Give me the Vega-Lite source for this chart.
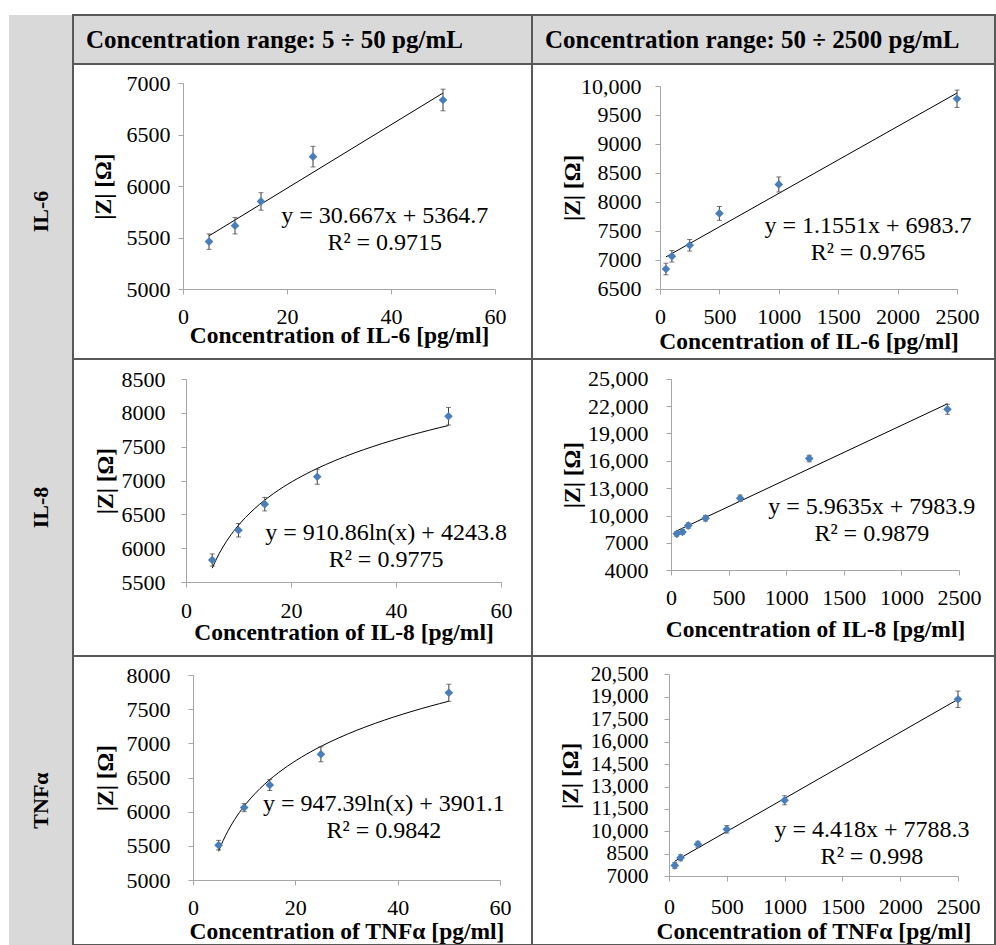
{
  "$schema": "https://vega.github.io/schema/vega-lite/v6.json",
  "padding": {"left": 9, "top": 14, "right": 0, "bottom": 0},
  "background": "white",
  "spacing": 0,
  "bounds": "flush",
  "columns": 3,
  "config": {
    "font": "Liberation Serif",
    "view": {"stroke": "#595959", "strokeWidth": 2},
    "axis": {"grid": false, "domainColor": "#a6a6a6", "tickColor": "#a6a6a6", "tickSize": 5, "labelFontSize": 22, "labelColor": "#000", "labelFont": "Liberation Serif", "titleFont": "Liberation Serif", "titleFontSize": 23.5, "titleFontWeight": "bold", "titleColor": "#000", "labelOverlap": false, "labelFlush": false}
  },
  "concat": [
      {"width": 64, "height": 49, "view": {"fill": "#d9d9d9"}, "data": {"values": [{"t": ""}]}, "mark": {"type": "text"}, "encoding": {"text": {"field": "t"}}},
      {"width": 459, "height": 49, "view": {"fill": "#d9d9d9"}, "data": {"values": [{"t": "Concentration range: 5 ÷ 50 pg/mL"}]}, "mark": {"type": "text", "align": "left", "dx": 13, "fontSize": 25, "fontWeight": "bold", "baseline": "middle"}, "encoding": {"x": {"datum": 0, "type": "quantitative", "scale": {"domain": [0, 1]}, "axis": null}, "text": {"field": "t"}}},
      {"width": 463, "height": 49, "view": {"fill": "#d9d9d9"}, "data": {"values": [{"t": "Concentration range: 50 ÷ 2500 pg/mL"}]}, "mark": {"type": "text", "align": "left", "dx": 13, "fontSize": 25, "fontWeight": "bold", "baseline": "middle"}, "encoding": {"x": {"datum": 0, "type": "quantitative", "scale": {"domain": [0, 1]}, "axis": null}, "text": {"field": "t"}}},
      {"width": 64, "height": 295, "view": {"fill": "#d9d9d9"}, "data": {"values": [{"t": "IL-6"}]}, "mark": {"type": "text", "angle": 270, "fontSize": 22, "fontWeight": "bold", "baseline": "middle", "align": "center"}, "encoding": {"text": {"field": "t"}}},
      {"width": 459, "height": 295, "view": {"fill": "white"},
       "data": {"values": [
         {"c": 5, "z": 5460, "lo": 5385, "hi": 5535},
         {"c": 10, "z": 5615, "lo": 5535, "hi": 5695},
         {"c": 15, "z": 5850, "lo": 5765, "hi": 5935},
         {"c": 25, "z": 6285, "lo": 6185, "hi": 6385},
         {"c": 50, "z": 6835, "lo": 6730, "hi": 6940}
       ]},
       "layer": [
         {"transform": [{"regression": "z", "on": "c", "method": "linear"}],
          "mark": {"type": "line", "color": "#000", "strokeWidth": 1},
          "encoding": {
            "x": {"field": "c", "type": "quantitative", "scale": {"domain": [0, 60], "range": [110, 422], "nice": false, "zero": false}, "axis": {"values": [0, 20, 40, 60], "tickCount": 20, "format": "d", "labelOverlap": false, "offset": -70, "labelPadding": 12, "title": "Concentration of  IL-6 [pg/ml]", "titleY": 53, "titleBaseline": "alphabetic"}},
            "y": {"field": "z", "type": "quantitative", "scale": {"domain": [5000, 7000], "range": [225, 19], "nice": false, "zero": false}, "axis": {"values": [5000, 5500, 6000, 6500, 7000], "tickCount": 20, "format": "d", "labelOverlap": false, "offset": -110, "labelPadding": 8, "title": "|Z| [Ω]", "titleX": -80, "titleBaseline": "middle"}}
          }},
         {"mark": {"type": "rule", "color": "#404040", "strokeWidth": 1}, "encoding": {"x": {"field": "c", "type": "quantitative"}, "y": {"field": "lo", "type": "quantitative"}, "y2": {"field": "hi"}}},
         {"mark": {"type": "tick", "orient": "horizontal", "size": 5, "thickness": 1, "color": "#404040"}, "encoding": {"x": {"field": "c", "type": "quantitative"}, "y": {"field": "lo", "type": "quantitative"}}},
         {"mark": {"type": "tick", "orient": "horizontal", "size": 5, "thickness": 1, "color": "#404040"}, "encoding": {"x": {"field": "c", "type": "quantitative"}, "y": {"field": "hi", "type": "quantitative"}}},
         {"mark": {"type": "point", "shape": "diamond", "filled": true, "size": 75, "color": "#4a7ebb", "opacity": 1}, "encoding": {"x": {"field": "c", "type": "quantitative"}, "y": {"field": "z", "type": "quantitative"}}},
         {"data": {"values": [{"eq": "y = 30.667x + 5364.7\nR² = 0.9715"}]}, "mark": {"type": "text", "fontSize": 24, "lineBreak": "\n", "lineHeight": 27, "baseline": "middle", "align": "center", "dy": -13.5}, "encoding": {"x": {"datum": 38.8}, "y": {"datum": 5578}, "text": {"field": "eq"}}}
       ]},
      {"width": 463, "height": 295, "view": {"fill": "white"},
       "data": {"values": [
         {"c": 50, "z": 6840, "lo": 6740, "hi": 6940},
         {"c": 100, "z": 7060, "lo": 6960, "hi": 7160},
         {"c": 250, "z": 7250, "lo": 7150, "hi": 7350},
         {"c": 500, "z": 7800, "lo": 7680, "hi": 7920},
         {"c": 1000, "z": 8300, "lo": 8170, "hi": 8430},
         {"c": 2500, "z": 9780, "lo": 9630, "hi": 9930}
       ]},
       "layer": [
         {"transform": [{"regression": "z", "on": "c", "method": "linear"}],
          "mark": {"type": "line", "color": "#000", "strokeWidth": 1},
          "encoding": {
            "x": {"field": "c", "type": "quantitative", "scale": {"domain": [0, 2500], "range": [128, 425], "nice": false, "zero": false}, "axis": {"values": [0, 500, 1000, 1500, 2000, 2500], "tickCount": 20, "format": "d", "labelOverlap": false, "offset": -70, "labelPadding": 12, "title": "Concentration of IL-6 [pg/ml]", "titleY": 59, "titleBaseline": "alphabetic"}},
            "y": {"field": "z", "type": "quantitative", "scale": {"domain": [6500, 10000], "range": [224.7, 22], "nice": false, "zero": false}, "axis": {"values": [6500, 7000, 7500, 8000, 8500, 9000, 9500, 10000], "tickCount": 20, "labelExpr": "datum.value >= 10000 ? format(datum.value, ',') : format(datum.value, 'd')", "labelOverlap": false, "offset": -128, "labelPadding": 14, "title": "|Z| [Ω]", "titleX": -88, "titleBaseline": "middle"}}
          }},
         {"mark": {"type": "rule", "color": "#404040", "strokeWidth": 1}, "encoding": {"x": {"field": "c", "type": "quantitative"}, "y": {"field": "lo", "type": "quantitative"}, "y2": {"field": "hi"}}},
         {"mark": {"type": "tick", "orient": "horizontal", "size": 5, "thickness": 1, "color": "#404040"}, "encoding": {"x": {"field": "c", "type": "quantitative"}, "y": {"field": "lo", "type": "quantitative"}}},
         {"mark": {"type": "tick", "orient": "horizontal", "size": 5, "thickness": 1, "color": "#404040"}, "encoding": {"x": {"field": "c", "type": "quantitative"}, "y": {"field": "hi", "type": "quantitative"}}},
         {"mark": {"type": "point", "shape": "diamond", "filled": true, "size": 75, "color": "#4a7ebb", "opacity": 1}, "encoding": {"x": {"field": "c", "type": "quantitative"}, "y": {"field": "z", "type": "quantitative"}}},
         {"data": {"values": [{"eq": "y = 1.1551x + 6983.7\nR² = 0.9765"}]}, "mark": {"type": "text", "fontSize": 24, "lineBreak": "\n", "lineHeight": 27, "baseline": "middle", "align": "center", "dy": -13.5}, "encoding": {"x": {"datum": 1751}, "y": {"datum": 7341}, "text": {"field": "eq"}}}
       ]},
      {"width": 64, "height": 297, "view": {"fill": "#d9d9d9"}, "data": {"values": [{"t": "IL-8"}]}, "mark": {"type": "text", "angle": 270, "fontSize": 22, "fontWeight": "bold", "baseline": "middle", "align": "center"}, "encoding": {"text": {"field": "t"}}},
      {"width": 459, "height": 297, "view": {"fill": "white"},
       "data": {"values": [
         {"c": 5, "z": 5825, "lo": 5735, "hi": 5915},
         {"c": 10, "z": 6265, "lo": 6165, "hi": 6365},
         {"c": 15, "z": 6650, "lo": 6550, "hi": 6750},
         {"c": 25, "z": 7055, "lo": 6945, "hi": 7165},
         {"c": 50, "z": 7950, "lo": 7820, "hi": 8080}
       ]},
       "layer": [
         {"transform": [{"regression": "z", "on": "c", "method": "log"}],
          "mark": {"type": "line", "color": "#000", "strokeWidth": 1},
          "encoding": {
            "x": {"field": "c", "type": "quantitative", "scale": {"domain": [0, 60], "range": [113, 428], "nice": false, "zero": false}, "axis": {"values": [0, 20, 40, 60], "tickCount": 20, "format": "d", "labelOverlap": false, "offset": -74, "labelPadding": 13, "title": "Concentration of IL-8 [pg/ml]", "titleY": 57, "titleBaseline": "alphabetic"}},
            "y": {"field": "z", "type": "quantitative", "scale": {"domain": [5500, 8500], "range": [223, 20], "nice": false, "zero": false}, "axis": {"values": [5500, 6000, 6500, 7000, 7500, 8000, 8500], "tickCount": 20, "format": "d", "labelOverlap": false, "offset": -113, "labelPadding": 16, "title": "|Z| [Ω]", "titleX": -81, "titleBaseline": "middle"}}
          }},
         {"mark": {"type": "rule", "color": "#404040", "strokeWidth": 1}, "encoding": {"x": {"field": "c", "type": "quantitative"}, "y": {"field": "lo", "type": "quantitative"}, "y2": {"field": "hi"}}},
         {"mark": {"type": "tick", "orient": "horizontal", "size": 5, "thickness": 1, "color": "#404040"}, "encoding": {"x": {"field": "c", "type": "quantitative"}, "y": {"field": "lo", "type": "quantitative"}}},
         {"mark": {"type": "tick", "orient": "horizontal", "size": 5, "thickness": 1, "color": "#404040"}, "encoding": {"x": {"field": "c", "type": "quantitative"}, "y": {"field": "hi", "type": "quantitative"}}},
         {"mark": {"type": "point", "shape": "diamond", "filled": true, "size": 75, "color": "#4a7ebb", "opacity": 1}, "encoding": {"x": {"field": "c", "type": "quantitative"}, "y": {"field": "z", "type": "quantitative"}}},
         {"data": {"values": [{"eq": "y = 910.86ln(x) + 4243.8\nR² = 0.9775"}]}, "mark": {"type": "text", "fontSize": 24, "lineBreak": "\n", "lineHeight": 27, "baseline": "middle", "align": "center", "dy": -13.5}, "encoding": {"x": {"datum": 38.1}, "y": {"datum": 6024}, "text": {"field": "eq"}}}
       ]},
      {"width": 463, "height": 297, "view": {"fill": "white"},
       "data": {"values": [
         {"c": 50, "z": 8000, "lo": 7750, "hi": 8250},
         {"c": 100, "z": 8200, "lo": 7950, "hi": 8450},
         {"c": 150, "z": 8900, "lo": 8600, "hi": 9200},
         {"c": 300, "z": 9700, "lo": 9400, "hi": 10000},
         {"c": 600, "z": 11900, "lo": 11550, "hi": 12250},
         {"c": 1200, "z": 16250, "lo": 15900, "hi": 16600},
         {"c": 2400, "z": 21650, "lo": 21100, "hi": 22200}
       ]},
       "layer": [
         {"transform": [{"regression": "z", "on": "c", "method": "linear"}],
          "mark": {"type": "line", "color": "#000", "strokeWidth": 1},
          "encoding": {
            "x": {"field": "c", "type": "quantitative", "scale": {"domain": [0, 2500], "range": [139, 427], "nice": false, "zero": false}, "axis": {"values": [0, 500, 1000, 1500, 2000, 2500], "tickCount": 20, "labelExpr": "datum.value == 2000 ? '1000' : format(datum.value, 'd')", "labelOverlap": false, "offset": -86, "labelPadding": 12, "title": "Concentration of IL-8 [pg/ml]", "titleY": 66, "titleBaseline": "alphabetic"}},
            "y": {"field": "z", "type": "quantitative", "scale": {"domain": [4000, 25000], "range": [211.3, 19.7], "nice": false, "zero": false}, "axis": {"values": [4000, 7000, 10000, 13000, 16000, 19000, 22000, 25000], "tickCount": 20, "labelExpr": "datum.value >= 10000 ? format(datum.value, ',') : format(datum.value, 'd')", "labelOverlap": false, "offset": -139, "labelPadding": 18, "title": "|Z| [Ω]", "titleX": -99, "titleBaseline": "middle"}}
          }},
         {"mark": {"type": "rule", "color": "#404040", "strokeWidth": 1}, "encoding": {"x": {"field": "c", "type": "quantitative"}, "y": {"field": "lo", "type": "quantitative"}, "y2": {"field": "hi"}}},
         {"mark": {"type": "tick", "orient": "horizontal", "size": 5, "thickness": 1, "color": "#404040"}, "encoding": {"x": {"field": "c", "type": "quantitative"}, "y": {"field": "lo", "type": "quantitative"}}},
         {"mark": {"type": "tick", "orient": "horizontal", "size": 5, "thickness": 1, "color": "#404040"}, "encoding": {"x": {"field": "c", "type": "quantitative"}, "y": {"field": "hi", "type": "quantitative"}}},
         {"mark": {"type": "point", "shape": "diamond", "filled": true, "size": 75, "color": "#4a7ebb", "opacity": 1}, "encoding": {"x": {"field": "c", "type": "quantitative"}, "y": {"field": "z", "type": "quantitative"}}},
         {"data": {"values": [{"eq": "y = 5.9635x + 7983.9\nR² = 0.9879"}]}, "mark": {"type": "text", "fontSize": 24, "lineBreak": "\n", "lineHeight": 27, "baseline": "middle", "align": "center", "dy": -13.5}, "encoding": {"x": {"datum": 1743}, "y": {"datum": 9491}, "text": {"field": "eq"}}}
       ]},
      {"width": 64, "height": 289, "view": {"fill": "#d9d9d9"}, "data": {"values": [{"t": "TNFα"}]}, "mark": {"type": "text", "angle": 270, "fontSize": 22, "fontWeight": "bold", "baseline": "middle", "align": "center"}, "encoding": {"text": {"field": "t"}}},
      {"width": 459, "height": 289, "view": {"fill": "white"},
       "data": {"values": [
         {"c": 5, "z": 5510, "lo": 5440, "hi": 5580},
         {"c": 10, "z": 6060, "lo": 6000, "hi": 6120},
         {"c": 15, "z": 6390, "lo": 6310, "hi": 6470},
         {"c": 25, "z": 6840, "lo": 6730, "hi": 6950},
         {"c": 50, "z": 7740, "lo": 7615, "hi": 7865}
       ]},
       "layer": [
         {"transform": [{"regression": "z", "on": "c", "method": "log"}],
          "mark": {"type": "line", "color": "#000", "strokeWidth": 1},
          "encoding": {
            "x": {"field": "c", "type": "quantitative", "scale": {"domain": [0, 60], "range": [120, 427], "nice": false, "zero": false}, "axis": {"values": [0, 20, 40, 60], "tickCount": 20, "format": "d", "labelOverlap": false, "offset": -65, "labelPadding": 12, "title": "Concentration of TNFα [pg/ml]", "titleY": 58, "titleBaseline": "alphabetic"}},
            "y": {"field": "z", "type": "quantitative", "scale": {"domain": [5000, 8000], "range": [224, 19], "nice": false, "zero": false}, "axis": {"values": [5000, 5500, 6000, 6500, 7000, 7500, 8000], "tickCount": 20, "format": "d", "labelOverlap": false, "offset": -120, "labelPadding": 18, "title": "|Z| [Ω]", "titleX": -88, "titleBaseline": "middle"}}
          }},
         {"mark": {"type": "rule", "color": "#404040", "strokeWidth": 1}, "encoding": {"x": {"field": "c", "type": "quantitative"}, "y": {"field": "lo", "type": "quantitative"}, "y2": {"field": "hi"}}},
         {"mark": {"type": "tick", "orient": "horizontal", "size": 5, "thickness": 1, "color": "#404040"}, "encoding": {"x": {"field": "c", "type": "quantitative"}, "y": {"field": "lo", "type": "quantitative"}}},
         {"mark": {"type": "tick", "orient": "horizontal", "size": 5, "thickness": 1, "color": "#404040"}, "encoding": {"x": {"field": "c", "type": "quantitative"}, "y": {"field": "hi", "type": "quantitative"}}},
         {"mark": {"type": "point", "shape": "diamond", "filled": true, "size": 75, "color": "#4a7ebb", "opacity": 1}, "encoding": {"x": {"field": "c", "type": "quantitative"}, "y": {"field": "z", "type": "quantitative"}}},
         {"data": {"values": [{"eq": "y = 947.39ln(x) + 3901.1\nR² = 0.9842"}]}, "mark": {"type": "text", "fontSize": 24, "lineBreak": "\n", "lineHeight": 27, "baseline": "middle", "align": "center", "dy": -13.5}, "encoding": {"x": {"datum": 37.3}, "y": {"datum": 5912}, "text": {"field": "eq"}}}
       ]},
      {"width": 463, "height": 289, "view": {"fill": "white"},
       "data": {"values": [
         {"c": 50, "z": 7730, "lo": 7530, "hi": 7930},
         {"c": 100, "z": 8240, "lo": 8040, "hi": 8440},
         {"c": 250, "z": 9140, "lo": 8940, "hi": 9340},
         {"c": 500, "z": 10140, "lo": 9890, "hi": 10390},
         {"c": 1000, "z": 12080, "lo": 11780, "hi": 12380},
         {"c": 2500, "z": 18830, "lo": 18280, "hi": 19380}
       ]},
       "layer": [
         {"transform": [{"regression": "z", "on": "c", "method": "linear"}],
          "mark": {"type": "line", "color": "#000", "strokeWidth": 1},
          "encoding": {
            "x": {"field": "c", "type": "quantitative", "scale": {"domain": [0, 2500], "range": [137, 426], "nice": false, "zero": false}, "axis": {"values": [0, 500, 1000, 1500, 2000, 2500], "tickCount": 20, "format": "d", "labelOverlap": false, "offset": -69, "labelPadding": 15, "title": "Concentration of TNFα [pg/ml]", "titleY": 62, "titleBaseline": "alphabetic"}},
            "y": {"field": "z", "type": "quantitative", "scale": {"domain": [7000, 20500], "range": [220.3, 18.3], "nice": false, "zero": false}, "axis": {"values": [7000, 8500, 10000, 11500, 13000, 14500, 16000, 17500, 19000, 20500], "tickCount": 20, "labelExpr": "datum.value >= 10000 ? format(datum.value, ',') : format(datum.value, 'd')", "labelOverlap": false, "labelFontSize": 21, "offset": -137, "labelPadding": 16, "title": "|Z| [Ω]", "titleX": -99, "titleBaseline": "middle"}}
          }},
         {"mark": {"type": "rule", "color": "#404040", "strokeWidth": 1}, "encoding": {"x": {"field": "c", "type": "quantitative"}, "y": {"field": "lo", "type": "quantitative"}, "y2": {"field": "hi"}}},
         {"mark": {"type": "tick", "orient": "horizontal", "size": 5, "thickness": 1, "color": "#404040"}, "encoding": {"x": {"field": "c", "type": "quantitative"}, "y": {"field": "lo", "type": "quantitative"}}},
         {"mark": {"type": "tick", "orient": "horizontal", "size": 5, "thickness": 1, "color": "#404040"}, "encoding": {"x": {"field": "c", "type": "quantitative"}, "y": {"field": "hi", "type": "quantitative"}}},
         {"mark": {"type": "point", "shape": "diamond", "filled": true, "size": 75, "color": "#4a7ebb", "opacity": 1}, "encoding": {"x": {"field": "c", "type": "quantitative"}, "y": {"field": "z", "type": "quantitative"}}},
         {"data": {"values": [{"eq": "y = 4.418x + 7788.3\nR² = 0.998"}]}, "mark": {"type": "text", "fontSize": 24, "lineBreak": "\n", "lineHeight": 27, "baseline": "middle", "align": "center", "dy": -13.5}, "encoding": {"x": {"datum": 1756}, "y": {"datum": 9159}, "text": {"field": "eq"}}}
       ]}
  ]
}
